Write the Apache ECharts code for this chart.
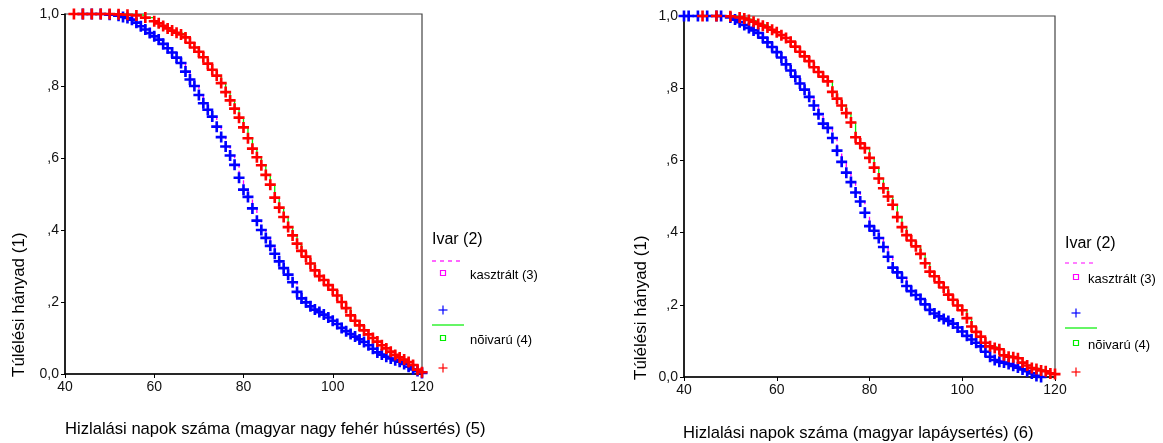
<!DOCTYPE html>
<html>
<head>
<meta charset="utf-8">
<script src="https://cdn.jsdelivr.net/npm/echarts@6/dist/echarts.min.js"></script>
<style>
html,body{margin:0;padding:0;background:#fff;}
#c{width:1163px;height:443px;}
</style>
</head>
<body>
<div id="c"></div>
<script>
// ---------- data ----------
var xTickLabels = ['40', '60', '80', '100', '120'];
var yTickLabels = ['0,0', ',2', ',4', ',6', ',8', '1,0'];

var groupNames = ['kasztrált (3)', 'nõivarú (4)'];
var legendTitle = 'Ivar (2)';
var yTitle = 'Túlélési hányad (1)';
var xTitleLeft = 'Hizlalási napok száma (magyar nagy fehér hússertés) (5)';
var xTitleRight = 'Hizlalási napok száma (magyar lapáysertés) (6)';

// left chart: kasztrált
var leftKasztDays = [44,46,48,50,52,53,54,55,56,57,58,59,60,61,62,63,64,65,66,67,68,69,70,71,72,73,74,75,76,77,78,79,80,81,82,83,84,85,86,87,88,89,90,91,92,93,94,95,96,97,98,99,100,101,102,103,104,105,106,107,108,109,110,111,112,113,114,115,116,117,118,119,120];
var leftKasztSurv = [1.000,1.000,1.000,0.998,0.995,0.992,0.989,0.984,0.976,0.966,0.957,0.947,0.938,0.929,0.917,0.905,0.893,0.879,0.864,0.840,0.818,0.800,0.775,0.752,0.734,0.715,0.687,0.658,0.632,0.607,0.581,0.545,0.512,0.492,0.460,0.426,0.400,0.378,0.356,0.334,0.313,0.294,0.276,0.255,0.228,0.210,0.199,0.188,0.179,0.172,0.165,0.157,0.148,0.139,0.128,0.119,0.111,0.104,0.096,0.089,0.080,0.070,0.060,0.054,0.048,0.043,0.038,0.034,0.028,0.020,0.013,0.008,0.003];
var leftKasztTail = [123, 0.003];

// left chart: nőivarú
var leftNoiDays = [42,44,46,48,50,52,54,56,58,60,61,62,63,64,65,66,67,68,69,70,71,72,73,74,75,76,77,78,79,80,81,82,83,84,85,86,87,88,89,90,91,92,93,94,95,96,97,98,99,100,101,102,103,104,105,106,107,108,109,110,111,112,113,114,115,116,117,118,119,120];
var leftNoiSurv = [1,1,1,1,1,0.999,0.998,0.996,0.990,0.980,0.974,0.967,0.960,0.954,0.948,0.943,0.935,0.920,0.907,0.895,0.880,0.862,0.845,0.829,0.808,0.783,0.760,0.737,0.712,0.685,0.655,0.626,0.602,0.580,0.553,0.526,0.490,0.462,0.436,0.408,0.385,0.362,0.342,0.326,0.307,0.288,0.272,0.261,0.247,0.234,0.218,0.200,0.183,0.163,0.148,0.135,0.121,0.110,0.100,0.090,0.080,0.071,0.062,0.053,0.046,0.040,0.033,0.025,0.012,0.005];
var leftNoiTail = [121, 0.005];

// right chart: kasztrált
var rightKasztDays = [40,41,43,45,47,48,50,51,52,53,54,55,56,57,58,59,60,61,62,63,64,65,66,67,68,69,70,71,72,73,74,75,76,77,78,79,80,81,82,83,84,85,86,87,88,89,90,91,92,93,94,95,96,97,98,99,100,101,102,103,104,105,106,107,108,109,110,111,112,113,114,115,116,117];
var rightKasztSurv = [1,1,1,1,1,1,0.996,0.990,0.983,0.975,0.967,0.960,0.953,0.940,0.927,0.914,0.900,0.885,0.866,0.849,0.832,0.813,0.796,0.776,0.752,0.728,0.702,0.690,0.662,0.627,0.596,0.566,0.540,0.511,0.486,0.455,0.418,0.405,0.385,0.360,0.333,0.303,0.290,0.275,0.252,0.238,0.227,0.216,0.201,0.186,0.176,0.168,0.161,0.155,0.148,0.137,0.126,0.114,0.104,0.095,0.085,0.070,0.056,0.047,0.042,0.040,0.036,0.031,0.026,0.021,0.016,0.010,0.003,0.000];

// right chart: nőivarú
var rightNoiDays = [44,47,50,52,53,54,55,56,57,58,59,60,61,62,63,64,65,66,67,68,69,70,71,72,73,74,75,76,77,78,79,80,81,82,83,84,85,86,87,88,89,90,91,92,93,94,95,96,97,98,99,100,101,102,103,104,105,106,107,108,109,110,111,112,113,114,115,116,117,118,119,120];
var rightNoiSurv = [1,1,0.999,0.996,0.993,0.989,0.984,0.978,0.973,0.968,0.962,0.955,0.947,0.939,0.929,0.915,0.901,0.888,0.875,0.858,0.845,0.832,0.819,0.790,0.771,0.752,0.731,0.705,0.664,0.647,0.634,0.607,0.580,0.550,0.523,0.500,0.477,0.443,0.415,0.393,0.378,0.362,0.341,0.315,0.292,0.279,0.262,0.248,0.228,0.214,0.198,0.185,0.163,0.140,0.125,0.112,0.095,0.085,0.080,0.077,0.060,0.056,0.055,0.052,0.040,0.032,0.025,0.022,0.018,0.016,0.010,0.008];

// ---------- style ----------
var FONT = 'Arial, "Liberation Sans", sans-serif';
var MAGENTA = '#ff00ff', BLUE = '#0000ff', GREEN = '#00ee00', RED = '#ff0000';
var PLUS = 'path://M3.8,0h2.4v3.8h3.8v2.4h-3.8v3.8h-2.4v-3.8h-3.8v-2.4h3.8z';

function zip(d, s) { var o = []; for (var i = 0; i < d.length; i++) o.push([d[i], s[i]]); return o; }

function axesFor(idx) {
  return {
    x: {
      type: 'value', gridIndex: idx, min: 40, max: 120, interval: 20,
      axisLine: { show: true, lineStyle: { color: '#000', width: 1.5 } },
      axisTick: { show: true, length: 4, lineStyle: { color: '#000' } },
      splitLine: { show: false },
      axisLabel: { color: '#111', fontSize: 14, fontFamily: FONT, margin: 6,
        formatter: function (v) { return xTickLabels[Math.round((v - 40) / 20)]; } }
    },
    y: {
      type: 'value', gridIndex: idx, min: 0, max: 1, interval: 0.2,
      axisLine: { show: true, lineStyle: { color: '#000', width: 1.5 } },
      axisTick: { show: true, length: 4, lineStyle: { color: '#000' } },
      splitLine: { show: false },
      axisLabel: { color: '#111', fontSize: 14, fontFamily: FONT, margin: 6,
        formatter: function (v) { return yTickLabels[Math.round(v * 5)]; } }
    }
  };
}
var a0 = axesFor(0), a1 = axesFor(1);

function stepLine(idx, data, color, dashed) {
  return { type: 'line', xAxisIndex: idx, yAxisIndex: idx, step: 'end', data: data,
    showSymbol: false, symbol: 'none', clip: false, silent: true, z: 2,
    lineStyle: { color: color, width: 1.3, type: dashed ? [4, 3] : 'solid' } };
}
function marks(idx, data, color) {
  return { type: 'scatter', xAxisIndex: idx, yAxisIndex: idx, data: data,
    symbol: PLUS, symbolSize: 11, silent: true, z: 4,
    itemStyle: { color: color, opacity: 1 } };
}

function legendGraphics(x0, yTitleC, yDash, ySq1, yPlus1, yGreen, ySq2, yPlus2, tx) {
  var g = [];
  var mx = x0 + 11;
  g.push({ type: 'text', left: x0, top: yTitleC - 9, style: { text: legendTitle, font: '16px ' + FONT, fill: '#000' } });
  g.push({ type: 'line', shape: { x1: x0, y1: yDash, x2: x0 + 32, y2: yDash }, style: { stroke: MAGENTA, lineWidth: 1.2, lineDash: [4, 4] } });
  g.push({ type: 'rect', shape: { x: mx - 2.5, y: ySq1 - 2.5, width: 5, height: 5 }, style: { fill: 'none', stroke: MAGENTA, lineWidth: 1.2 } });
  g.push({ type: 'text', left: tx, top: ySq1 - 4, style: { text: groupNames[0], font: '13px ' + FONT, fill: '#000' } });
  g.push({ type: 'line', shape: { x1: mx - 4.5, y1: yPlus1, x2: mx + 4.5, y2: yPlus1 }, style: { stroke: BLUE, lineWidth: 1.2 } });
  g.push({ type: 'line', shape: { x1: mx, y1: yPlus1 - 4.5, x2: mx, y2: yPlus1 + 4.5 }, style: { stroke: BLUE, lineWidth: 1.2 } });
  g.push({ type: 'line', shape: { x1: x0, y1: yGreen, x2: x0 + 32, y2: yGreen }, style: { stroke: GREEN, lineWidth: 1.2 } });
  g.push({ type: 'rect', shape: { x: mx - 2.5, y: ySq2 - 2.5, width: 5, height: 5 }, style: { fill: 'none', stroke: GREEN, lineWidth: 1.2 } });
  g.push({ type: 'text', left: tx, top: ySq2 - 4, style: { text: groupNames[1], font: '13px ' + FONT, fill: '#000' } });
  g.push({ type: 'line', shape: { x1: mx - 4.5, y1: yPlus2, x2: mx + 4.5, y2: yPlus2 }, style: { stroke: RED, lineWidth: 1.2 } });
  g.push({ type: 'line', shape: { x1: mx, y1: yPlus2 - 4.5, x2: mx, y2: yPlus2 + 4.5 }, style: { stroke: RED, lineWidth: 1.2 } });
  return g;
}

var graphics = [].concat(
  legendGraphics(432, 241, 261, 273, 310, 325, 338, 368, 470),
  legendGraphics(1065, 245, 263, 277, 313, 328, 343, 372, 1088),
  [
    { type: 'text', x: 19, y: 377, rotation: Math.PI / 2, style: { text: yTitle, font: '17px ' + FONT, fill: '#000', align: 'left', verticalAlign: 'middle' } },
    { type: 'text', x: 641, y: 380, rotation: Math.PI / 2, style: { text: yTitle, font: '17px ' + FONT, fill: '#000', align: 'left', verticalAlign: 'middle' } },
    { type: 'text', x: 65, y: 429, style: { text: xTitleLeft, font: '16.6px ' + FONT, fill: '#000', align: 'left', verticalAlign: 'middle' } },
    { type: 'text', x: 683, y: 433, style: { text: xTitleRight, font: '16.6px ' + FONT, fill: '#000', align: 'left', verticalAlign: 'middle' } }
  ]
);

var chart = echarts.init(document.getElementById('c'), null, { renderer: 'canvas' });
chart.setOption({
  animation: false,
  backgroundColor: '#fff',
  grid: [
    { left: 65, top: 14, width: 357, height: 360, show: true, borderColor: '#444', borderWidth: 1.2, containLabel: false },
    { left: 684, top: 16, width: 371, height: 361, show: true, borderColor: '#444', borderWidth: 1.2, containLabel: false }
  ],
  xAxis: [a0.x, a1.x],
  yAxis: [a0.y, a1.y],
  graphic: graphics,
  series: [
    stepLine(0, zip(leftKasztDays, leftKasztSurv).concat([leftKasztTail]), MAGENTA, true),
    stepLine(0, zip(leftNoiDays, leftNoiSurv).concat([leftNoiTail]), GREEN, false),
    marks(0, zip(leftKasztDays, leftKasztSurv), BLUE),
    marks(0, zip(leftNoiDays, leftNoiSurv), RED),
    stepLine(1, zip(rightKasztDays, rightKasztSurv), MAGENTA, true),
    stepLine(1, zip(rightNoiDays, rightNoiSurv), GREEN, false),
    marks(1, zip(rightKasztDays, rightKasztSurv), BLUE),
    marks(1, zip(rightNoiDays, rightNoiSurv), RED)
  ]
});
</script>
</body>
</html>
